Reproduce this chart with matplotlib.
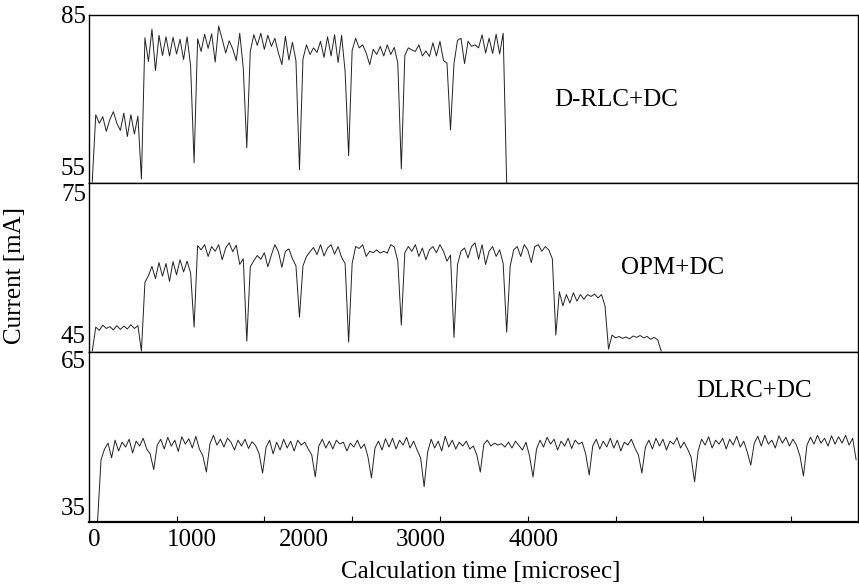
import numpy as np
import matplotlib
matplotlib.use("Agg")
import matplotlib.pyplot as plt

# ---------------- data ----------------
dt = 40.0  # sample spacing [microsec]

top_t0 = 40.0
top_vals = [52.0,
    65.3, 63.6, 64.9, 62.0, 64.3, 65.9, 63.6, 62.2, 65.6, 61.0, 65.3, 61.5, 65.0,
    52.6,
    80.5, 75.8, 82.2, 74.0, 81.0, 77.0, 80.7, 76.9, 80.6, 77.3, 80.2, 76.2, 80.7, 75.0,
    55.8,
    80.3, 77.8, 81.2, 78.4, 81.3, 75.7, 82.8, 80.2, 77.5, 79.9, 78.3, 76.0, 81.4, 74.5,
    58.8,
    77.8, 81.1, 79.0, 81.4, 78.2, 81.0, 78.8, 80.4, 77.5, 75.2, 80.8, 76.1, 79.6, 76.0,
    54.4,
    76.3, 79.1, 77.2, 78.5, 77.6, 79.8, 76.6, 80.7, 76.9, 81.1, 75.6, 81.0, 73.8,
    57.2,
    78.0, 80.4, 78.5, 79.1, 77.5, 75.2, 78.2, 77.2, 78.8, 76.9, 79.1, 77.2, 78.6, 75.5,
    54.6,
    77.0, 78.5, 78.1, 77.8, 79.1, 76.9, 77.9, 76.8, 79.5, 76.9, 79.8, 76.0, 75.5,
    62.3,
    75.4, 80.0, 80.4, 75.4, 79.8, 78.8, 79.1, 78.5, 81.1, 77.5, 80.4, 77.4, 81.2, 77.3, 81.4,
    51.8]

mid_t0 = 40.0
mid_vals = [41.4,
    46.5, 45.8, 46.9, 46.2, 46.6, 45.9, 46.8, 46.0, 46.7, 46.1, 47.0, 46.2, 46.8,
    41.4,
    56.0, 57.4, 59.4, 56.8, 60.2, 57.3, 60.0, 56.2, 60.4, 57.6, 60.8, 58.2, 60.5, 58.0,
    46.5,
    63.8, 62.9, 64.0, 61.5, 63.6, 62.6, 64.0, 60.8, 63.3, 64.4, 62.5, 63.9, 59.8, 61.0,
    43.5,
    59.3, 60.6, 61.7, 60.9, 62.3, 59.3, 61.8, 64.0, 62.5, 59.2, 62.6, 63.1, 61.0, 59.5,
    48.6,
    59.5, 61.5, 62.5, 63.4, 61.9, 64.0, 61.6, 63.3, 64.0, 62.0, 63.6, 61.3, 60.0,
    43.3,
    60.0, 63.6, 63.2, 64.0, 61.5, 62.6, 62.3, 62.9, 62.2, 62.6, 62.2, 64.0, 63.5, 60.5,
    46.9,
    62.3, 63.6, 62.6, 64.0, 61.5, 63.3, 60.8, 62.9, 63.6, 62.3, 64.0, 62.6, 60.5, 61.8,
    44.3,
    59.8, 62.6, 63.3, 61.2, 63.6, 64.4, 60.9, 64.0, 59.8, 62.6, 63.6, 61.5, 62.9, 60.0,
    45.4,
    59.4, 62.9, 63.6, 61.5, 64.0, 62.9, 60.2, 63.6, 64.0, 62.6, 63.6, 62.9, 61.0,
    44.8,
    54.0, 51.0, 53.4, 51.6, 53.8, 52.0, 53.4, 52.4, 53.4, 53.0, 53.5, 52.7, 53.4, 51.0,
    41.8,
    44.8, 44.2, 44.5, 44.1, 44.4, 44.0, 44.6, 44.3, 44.7, 44.2, 44.5, 43.9, 44.3, 43.8,
    41.4]

bot_t0 = 100.0
bot_vals = [31.9,
    44.6, 46.8, 48.0,
    45.0, 48.6, 46.4, 48.2, 47.2, 48.8, 46.0, 48.4, 47.4, 49.0, 46.8, 45.8,
    42.6,
    47.6, 48.8, 46.8, 49.2, 47.4, 48.6, 46.3, 49.3, 47.8, 48.9, 47.0, 49.4, 46.8, 45.4,
    42.1,
    47.8, 49.6, 47.6, 48.8, 47.2, 49.0, 48.2, 46.6, 48.6, 47.4, 48.8, 46.9, 48.3, 47.5, 45.9,
    41.9,
    47.2, 48.6, 45.8, 48.2, 46.6, 48.8, 47.0, 48.4, 46.4, 48.6, 47.6, 48.2, 46.8, 45.6,
    41.1,
    47.4, 48.8, 47.0, 48.4, 46.8, 48.6, 47.8, 48.2, 46.4, 48.0, 47.2, 48.6, 46.9, 47.8, 45.2,
    40.9,
    47.0, 48.4, 46.6, 48.9, 47.2, 49.0, 46.8, 48.6, 47.6, 49.2, 47.0, 48.4, 46.6, 45.0,
    39.1,
    46.2, 48.8, 47.0, 48.4, 46.4, 49.4, 47.2, 48.6, 46.8, 48.2, 47.4, 48.4, 46.8, 47.4, 45.6,
    42.1,
    47.8, 48.6, 47.4, 48.0, 47.6, 47.9, 47.2, 48.2, 47.0, 48.4, 47.5, 46.6, 48.2, 45.4,
    41.1,
    46.8, 48.6, 47.2, 49.2, 47.8, 48.8, 46.6, 48.4, 47.4, 49.0, 46.9, 48.6, 47.8, 48.2, 45.8,
    41.5,
    47.4, 48.8, 46.8, 48.4, 47.2, 49.0, 47.0, 48.6, 46.4, 48.2, 47.6, 48.8, 47.0, 45.6,
    41.9,
    47.2, 48.6, 46.8, 49.0, 47.4, 48.8, 46.6, 48.4, 47.8, 49.1, 47.0, 48.2, 46.8, 45.2,
    40.1,
    46.4, 48.8, 47.6, 49.3, 47.0, 48.6, 47.8, 49.0, 46.8, 48.8, 47.6, 49.4, 47.2, 48.4, 46.2,
    43.5,
    48.0, 49.4, 47.4, 49.6, 47.8, 48.6, 47.0, 49.5, 48.0, 49.2, 47.4, 48.8, 47.6, 45.4,
    41.3,
    47.6, 49.2, 47.8, 49.6, 48.0, 49.0, 47.4, 49.5, 47.8, 49.3, 48.0, 49.6, 47.6, 49.0, 44.6]

panel_names = ["D-RLC+DC", "OPM+DC", "DLRC+DC"]
panel_yticks = [[55, 85], [45, 75], [35, 65]]
panel_ylims = [(51.8, 85.0), (41.2, 77.1), (31.9, 66.6)]

x_major_ticks = [0, 1000, 2000, 3000, 4000, 5000, 6000, 7000, 8000]
x_tick_labels = ["0", "1000", "2000", "3000", "4000"]
x_tick_label_pos = [60, 1171, 2447, 3785, 5061]
x_lim = (0, 8758)

# ---------------- figure ----------------
plt.rcParams["font.family"] = ["Liberation Serif", "DejaVu Serif"]
plt.rcParams["font.size"] = 18

fig = plt.figure(figsize=(8.59, 5.87), dpi=100)

left, width = 0.1033, 0.8952
rects = [
    [left, 0.68825, width, 0.28620],
    [left, 0.40034, width, 0.28790],
    [left, 0.11073, width, 0.28961],
]
series = [(top_t0, top_vals), (mid_t0, mid_vals), (bot_t0, bot_vals)]
name_pos = [(0.686, 0.494), (0.759, 0.497), (0.865, 0.770)]

axes = []
for k in range(3):
    ax = fig.add_axes(rects[k])
    t0, vals = series[k]
    t = t0 + dt * np.arange(len(vals))
    ax.plot(t, vals, color="#222222", lw=0.7)
    ax.set_xlim(*x_lim)
    ax.set_ylim(*panel_ylims[k])
    ax.set_yticks(panel_yticks[k])
    ax.tick_params(axis="y", length=0, pad=2, labelsize=18)
    ax.set_xticks(x_major_ticks)
    if k < 2:
        ax.tick_params(axis="x", which="both", length=0, labelbottom=False)
    else:
        ax.set_xticklabels([])
        ax.tick_params(axis="x", which="major", direction="in", length=4, width=0.8)
        ax.set_xticks(x_tick_label_pos, minor=True)
        ax.set_xticklabels(x_tick_labels, minor=True)
        ax.tick_params(axis="x", which="minor", length=0, pad=5, labelsize=18)
    for s in ax.spines.values():
        s.set_linewidth(1.0)
    ax.text(name_pos[k][0], name_pos[k][1], panel_names[k], transform=ax.transAxes,
            ha="center", va="center", fontsize=18)
    axes.append(ax)

axes[2].spines["bottom"].set_linewidth(1.6)

fig.text(0.0175, 1 - 275 / 587, "Current [mA]", rotation=90, ha="center", va="center",
         fontsize=18)
fig.text(481 / 859, 1 - 572 / 587, "Calculation time [microsec]", ha="center",
         va="center", fontsize=18)

fig.savefig("out.png", dpi=100)
